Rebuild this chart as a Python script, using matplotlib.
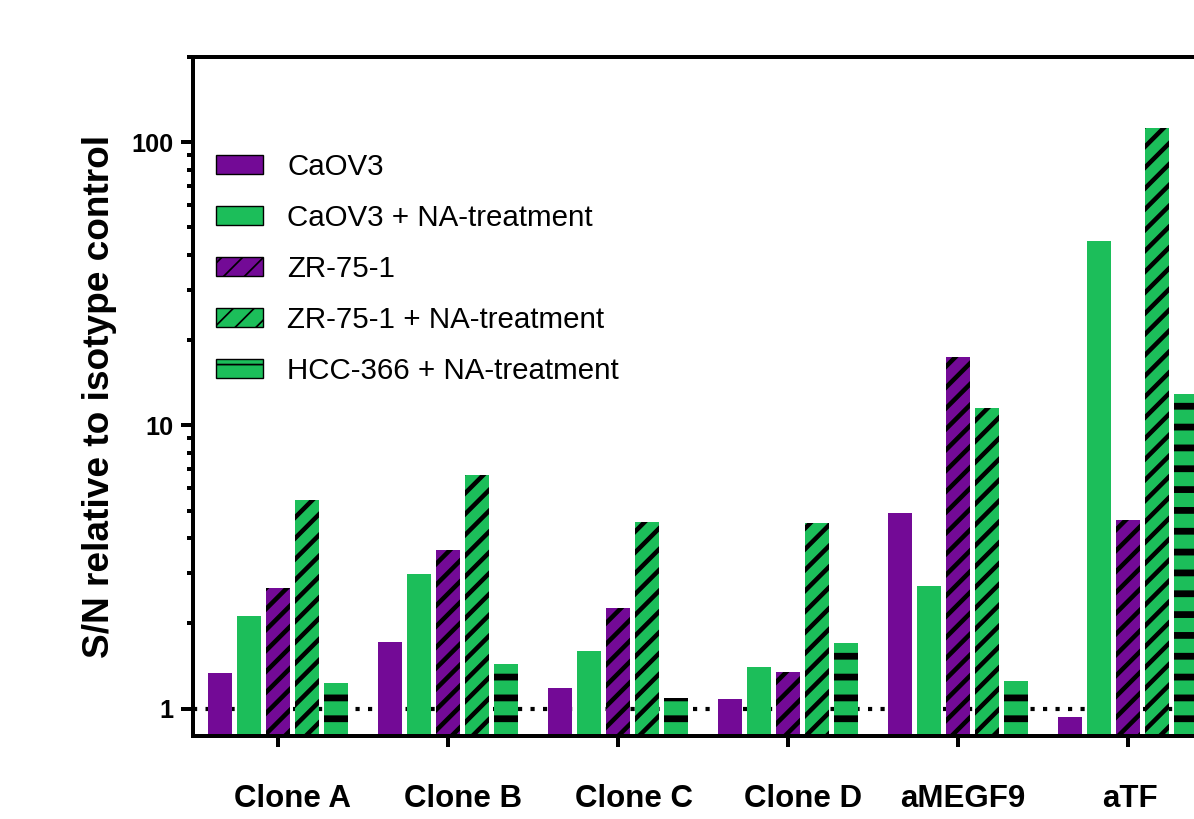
import numpy as np
import matplotlib
matplotlib.use('Agg')
import matplotlib.pyplot as plt
from matplotlib.patches import Patch
from matplotlib.ticker import FixedLocator, NullFormatter, FixedFormatter
from matplotlib.transforms import ScaledTranslation

# ---- data ----
groups = ['Clone A', 'Clone B', 'Clone C', 'Clone D', 'aMEGF9', 'aTF']
series_names = ['CaOV3', 'CaOV3 + NA-treatment', 'ZR-75-1',
                'ZR-75-1 + NA-treatment', 'HCC-366 + NA-treatment']
caov3 = [1.33, 1.72, 1.18, 1.08, 4.91, 0.93]
caov3_na = [2.13, 2.99, 1.60, 1.40, 2.72, 44.7]
zr751 = [2.67, 3.64, 2.27, 1.35, 17.4, 4.64]
zr751_na = [5.46, 6.69, 4.57, 4.53, 11.5, 112.0]
hcc366_na = [1.23, 1.44, 1.09, 1.70, 1.25, 12.9]
y_major = [1, 10, 100]
y_major_labels = ['1', '10', '100']

# ---- style ----
PURPLE = '#730A96'
GREEN = '#1CBE5A'
values = [caov3, caov3_na, zr751, zr751_na, hcc366_na]
colors = [PURPLE, GREEN, PURPLE, GREEN, GREEN]
hatches = [None, None, '//', '//', '-']
hatch_lw = [2.6, 2.6, 2.6, 2.6, 3.9]
label_shift_px = [15, 15, 16, 15, 5, 2]

DPI = 125
plt.rcParams['font.family'] = ['Liberation Sans', 'DejaVu Sans']

fig = plt.figure(figsize=(1194 / DPI, 819 / DPI), dpi=DPI)
ax = fig.add_axes([193 / 1194, 83 / 819, 1020 / 1194, 679 / 819])
ax.set_yscale('log')

x = np.arange(len(groups))
step = 0.1706
width = 0.141

ax.axhline(1, color='black', lw=2.4, linestyle=(0, (1, 2)),
           dash_capstyle='butt', zorder=0.5)

handles = []
for i, (vals, col, h, hl) in enumerate(zip(values, colors, hatches, hatch_lw)):
    with plt.rc_context({'hatch.linewidth': hl, 'hatch.color': 'black'}):
        bars = ax.bar(x + (i - 2) * step, vals, width,
                      color=col, edgecolor='black', linewidth=0,
                      hatch=h, zorder=2)
        hp = Patch(facecolor=col, edgecolor='black', linewidth=0.8, hatch=h)
    for b in bars:
        if hasattr(b, 'set_hatch_linewidth'):
            b.set_hatch_linewidth(hl)
    if hasattr(hp, 'set_hatch_linewidth'):
        hp.set_hatch_linewidth(hl)
    handles.append(hp)

ax.set_ylim(0.8, 200)
ax.set_xlim(-0.5, 5.5)

# spines
for s in ['left', 'bottom', 'top']:
    ax.spines[s].set_linewidth(2.3)
ax.spines['right'].set_visible(False)

# y ticks
ax.yaxis.set_major_locator(FixedLocator(y_major))
ax.yaxis.set_major_formatter(FixedFormatter(y_major_labels))
minors = [v * d for d in (1, 10) for v in range(2, 10)] + [200]
ax.yaxis.set_minor_locator(FixedLocator(minors))
ax.yaxis.set_minor_formatter(NullFormatter())
ax.tick_params(axis='y', which='major', length=7, width=2.3, pad=4,
               labelsize=14.5)
ax.tick_params(axis='y', which='minor', length=3.5, width=2.3)
for lab in ax.get_yticklabels():
    lab.set_fontweight('bold')

# x ticks
ax.set_xticks(x)
ax.set_xticklabels(groups, fontsize=18, fontweight='bold')
ax.tick_params(axis='x', which='major', length=6.5, width=2.3, pad=21)
ax.tick_params(axis='x', which='minor', length=0)
for lab, dx in zip(ax.get_xticklabels(), label_shift_px):
    lab.set_transform(lab.get_transform() +
                      ScaledTranslation(dx / DPI, 0, fig.dpi_scale_trans))

ax.set_ylabel('S/N relative to isotype control', fontsize=21.3,
              fontweight='bold')
ax.yaxis.set_label_coords((117 - 193) / 1020, 0.5)

ax.legend(handles, series_names, loc='upper left',
          bbox_to_anchor=((216 - 193) / 1020, (736 - 153) / 679),
          frameon=False, fontsize=17.0, borderpad=0, borderaxespad=0,
          handlelength=1.58, handleheight=0.58, handletextpad=0.84,
          labelspacing=0.78)

fig.savefig('out.png', dpi=DPI)
